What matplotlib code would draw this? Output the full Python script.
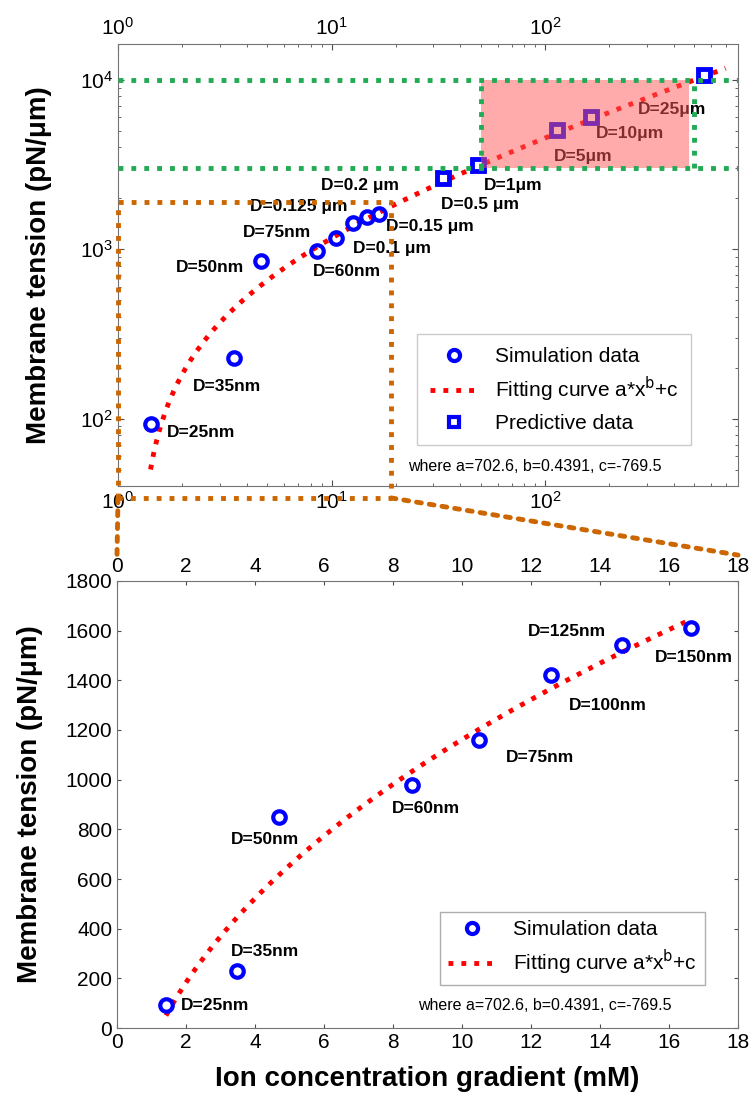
import numpy as np
import matplotlib.pyplot as plt
from matplotlib.patches import Rectangle, ConnectionPatch
from matplotlib.lines import Line2D

plt.rcParams['font.family'] = ['Liberation Sans', 'DejaVu Sans']

# simulation data: ion concentration gradient (mM) vs membrane tension (pN/um)
sim_x = [1.42, 3.48, 4.69, 8.55, 10.5, 12.58, 14.65, 16.64]
sim_y = [93, 228, 850, 977, 1160, 1420, 1543, 1612]

# predictive data (log plot only)
pred_x = [33.4, 48.5, 114, 164, 557]
pred_y = [2630, 3150, 5060, 6040, 10700]

# fitting curve a*x^b+c, parameters printed on the chart
fit_a = 702.6
fit_b = 0.4391
fit_c = -769.5
fit_text = 'where a=702.6, b=0.4391, c=-769.5'

# annotations (text, x, y) for the log plot
top_labels = [('D=25nm', 1.70, 83), ('D=35nm', 2.23, 154), ('D=50nm', 1.87, 781),
              ('D=75nm', 3.86, 1260), ('D=60nm', 8.15, 741), ('D=0.1 \u03bcm', 12.6, 1014),
              ('D=0.125 \u03bcm', 4.17, 1795), ('D=0.15 \u03bcm', 17.9, 1368),
              ('D=0.2 \u03bcm', 8.89, 2393), ('D=0.5 \u03bcm', 32.6, 1845),
              ('D=1\u03bcm', 51.9, 2393), ('D=5\u03bcm', 110, 3548),
              ('D=10\u03bcm', 173, 4855), ('D=25\u03bcm', 272, 6640)]
# annotations for the linear plot
bot_labels = [('D=25nm', 1.86, 92), ('D=35nm', 3.31, 308), ('D=50nm', 3.3, 760),
              ('D=60nm', 7.97, 884), ('D=75nm', 11.28, 1088), ('D=100nm', 13.1, 1300),
              ('D=125nm', 11.9, 1596), ('D=150nm', 15.6, 1492)]

# highlighted range on the log plot
zone_x = [50, 470]
zone_x2 = 500
zone_y = [3000, 10000]
# zoom box drawn on the log plot
box_x = [1, 19]
box_y = [34, 1900]

orange = '#CC6600'
green = '#22AA55'

def fit(x):
    return fit_a * np.power(x, fit_b) + fit_c

fig = plt.figure(figsize=(7.53, 11.01), dpi=100)
ax1 = fig.add_axes([0.1567, 0.5586, 0.8234, 0.4015])
ax2 = fig.add_axes([0.1554, 0.0663, 0.8247, 0.406])

# ---------- top : log-log ----------
xf = np.logspace(np.log10(sim_x[0]), np.log10(700), 200)
ax1.plot(xf, fit(xf), ':', color='red', lw=3.5, zorder=3)
ax1.plot(sim_x, sim_y, 'o', mfc='none', mec='blue', ms=9, mew=3, zorder=4)
ax1.plot(pred_x, pred_y, 's', mfc='white', mec='blue', ms=8.5, mew=3.5, zorder=4)
for t, x, y in top_labels:
    ax1.text(x, y, t, fontsize=12.5, fontweight='bold', ha='left', va='center', zorder=5)

ax1.add_patch(Rectangle((zone_x[0], zone_y[0]), zone_x[1] - zone_x[0], zone_y[1] - zone_y[0],
                        facecolor=(1.0, 0.35, 0.35), alpha=0.5, edgecolor='none', zorder=6))
for yy in zone_y:
    ax1.axhline(yy, color=green, ls=':', lw=3.5, zorder=7)
for xx in [zone_x[0], zone_x2]:
    ax1.plot([xx, xx], zone_y, ':', color=green, lw=3.5, zorder=7)

ax1.plot([box_x[0], box_x[0], box_x[1], box_x[1], box_x[0]],
         [box_y[0], box_y[1], box_y[1], box_y[0], box_y[0]],
         ':', color=orange, lw=3.5, clip_on=False, zorder=8)

ax1.set_xscale('log')
ax1.set_yscale('log')
ax1.set_xlim(1, 800)
ax1.set_ylim(40, 16300)
ax1.tick_params(which='both', direction='in', top=True, right=True, labeltop=True,
                labelsize=15, color='0.3')
ax1.tick_params(which='major', length=4)
ax1.tick_params(which='minor', length=2)
for s in ax1.spines.values():
    s.set_color('0.45')
ax1.set_ylabel('Membrane tension (pN/\u03bcm)', fontsize=20, fontweight='bold', labelpad=20)

h1 = [Line2D([], [], ls='none', marker='o', mfc='none', mec='blue', ms=8, mew=3),
      Line2D([], [], ls=':', color='red', lw=3.5),
      Line2D([], [], ls='none', marker='s', mfc='white', mec='blue', ms=7.5, mew=3)]
lg1 = ax1.legend(h1, ['Simulation data', 'Fitting curve a*x$^{\\rm b}$+c', 'Predictive data'],
                 loc='upper left', bbox_to_anchor=(0.483, 0.343), fontsize=15, fancybox=False,
                 edgecolor='0.75', handlelength=2.3, labelspacing=0.45, borderpad=0.6,
                 handletextpad=0.8, borderaxespad=0)
lg1.get_frame().set_linewidth(1)
ax1.text(0.467, 0.045, fit_text, transform=ax1.transAxes, fontsize=11.5, ha='left', va='center')

# ---------- bottom : linear ----------
xf2 = np.linspace(sim_x[0], sim_x[-1], 200)
ax2.plot(xf2, fit(xf2), ':', color='red', lw=3.5, zorder=3)
ax2.plot(sim_x, sim_y, 'o', mfc='none', mec='blue', ms=9, mew=3, zorder=4)
for t, x, y in bot_labels:
    ax2.text(x, y, t, fontsize=12.5, fontweight='bold', ha='left', va='center')
ax2.set_xlim(0, 18)
ax2.set_ylim(0, 1800)
ax2.set_xticks(np.arange(0, 19, 2))
ax2.set_yticks(np.arange(0, 1801, 200))
ax2.tick_params(direction='in', top=True, right=True, labeltop=True, labelsize=15,
                length=3, color='0.3')
for s in ax2.spines.values():
    s.set_color('0.45')
ax2.set_ylabel('Membrane tension (pN/\u03bcm)', fontsize=20, fontweight='bold', labelpad=16)
ax2.set_xlabel('Ion concentration gradient (mM)', fontsize=20, fontweight='bold', labelpad=10)

h2 = [Line2D([], [], ls='none', marker='o', mfc='none', mec='blue', ms=8, mew=3),
      Line2D([], [], ls=':', color='red', lw=3.5)]
lg2 = ax2.legend(h2, ['Simulation data', 'Fitting curve a*x$^{\\rm b}$+c'],
                 loc='upper left', bbox_to_anchor=(0.52, 0.26), fontsize=15, fancybox=False,
                 edgecolor='0.6', handlelength=2.3, labelspacing=0.4, borderpad=0.4,
                 handletextpad=0.8, borderaxespad=0)
ax2.text(0.485, 0.051, fit_text, transform=ax2.transAxes, fontsize=11.5, ha='left', va='center')

# connectors from zoom box to the linear plot
for xa, xb in [(box_x[0], 0.0), (box_x[1], 1.0)]:
    cp = ConnectionPatch(xyA=(xa, box_y[0]), coordsA=ax1.transData,
                         xyB=(xb, 1.058), coordsB=ax2.transAxes,
                         ls=':', color=orange, lw=3.5)
    fig.add_artist(cp)

fig.savefig('out.png', dpi=100)
